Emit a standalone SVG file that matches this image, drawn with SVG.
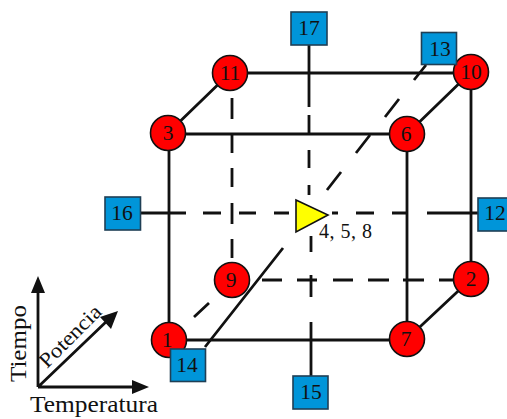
<svg xmlns="http://www.w3.org/2000/svg" width="507" height="419" viewBox="0 0 507 419">
<style>
text{font-family:"Liberation Serif","Times New Roman",serif;fill:#111}
.n{font-size:21.500px;text-anchor:middle}
.l{font-size:23px}
.c circle{fill:#f00;stroke:#111;stroke-width:1.600}
.s rect{fill:#0095d9;stroke:#1f3f55;stroke-width:1.600}
#connectors path{fill:none;stroke:#111;stroke-width:2.800}
#axes path.a{fill:none;stroke:#111;stroke-width:2.800}
#axes path.h{fill:#111}
</style>
<rect width="507" height="419" fill="#fff"/>
<g id="connectors">
<path d="M230 73H471M168 134H407M169 133V340M169 340H407M471 72V279M407 134V339M168 133L230 73M407 134L471 72M407 339L471 279"/>
<path d="M309 45V107M309 115V133M309 150V168M309 185V195M311 236V252M311 275V297M311 322V376"/>
<path d="M232 98V119M232 135V153M232 168V187M232 203V224M232 239V258"/>
<path d="M141 213H186M203 213H221M239 213H256M274 213H289M332 213H338M356 213H374M392 213H407M427 213H478"/>
<path d="M262 280H282M297 280H317M333 280H353M368 280H389M403 280H424M439 280H455"/>
<path d="M205 347L283 248M194 317L209 303M327 190L341 172M356 153L370 135M385 117L399 99M414 80L426 65"/>
</g>
<g id="axes">
<path class="a" d="M38 387V288M38 387H136M38 387L108 320"/>
<path class="h" d="M38 276L45 293H31ZM149 387L132 380V394ZM118 311L111 329L100 317Z"/>
<text class="l" transform="translate(26 382) rotate(-90)" textLength="77" lengthAdjust="spacingAndGlyphs">Tiempo</text>
<text class="l" transform="translate(47 369) rotate(-45)" textLength="79" lengthAdjust="spacingAndGlyphs" style="font-size:21px">Potencia</text>
<text class="l" x="30" y="412" textLength="128" lengthAdjust="spacingAndGlyphs">Temperatura</text>
</g>
<g id="n1" class="c"><circle cx="169" cy="340" r="17.500"/><text class="n" x="167" y="347">1</text></g>
<g id="n2" class="c"><circle cx="471" cy="279" r="17.500"/><text class="n" x="471" y="286">2</text></g>
<g id="n3" class="c"><circle cx="168" cy="133" r="17.500"/><text class="n" x="168" y="140">3</text></g>
<g id="n6" class="c"><circle cx="407" cy="134" r="17.500"/><text class="n" x="406" y="141">6</text></g>
<g id="n7" class="c"><circle cx="407" cy="339" r="17.500"/><text class="n" x="406" y="346">7</text></g>
<g id="n9" class="c"><circle cx="232" cy="280" r="17.500"/><text class="n" x="231" y="287">9</text></g>
<g id="n10" class="c"><circle cx="471" cy="72" r="17.500"/><text class="n" x="471" y="79">10</text></g>
<g id="n11" class="c"><circle cx="230" cy="73" r="17.500"/><text class="n" x="230" y="80">11</text></g>
<g id="n12" class="s"><rect x="478" y="198" width="36" height="33"/><text class="n" x="495" y="220">12</text></g>
<g id="n13" class="s"><rect x="421.500" y="32.500" width="35" height="32"/><text class="n" x="440" y="56">13</text></g>
<g id="n14" class="s"><rect x="170.500" y="349" width="35" height="32.500"/><text class="n" x="187" y="372">14</text></g>
<g id="n15" class="s"><rect x="293" y="376" width="35" height="33"/><text class="n" x="311" y="399">15</text></g>
<g id="n16" class="s"><rect x="105" y="197" width="35.500" height="33"/><text class="n" x="122" y="220">16</text></g>
<g id="n17" class="s"><rect x="291" y="12" width="36" height="33"/><text class="n" x="309" y="35">17</text></g>
<g id="n458"><path d="M296 200L328 215L296 232Z" fill="#ff0" stroke="#111" stroke-width="1.600"/><text x="319" y="238" style="font-size:20px" textLength="53" lengthAdjust="spacing">4, 5, 8</text></g>
</svg>
